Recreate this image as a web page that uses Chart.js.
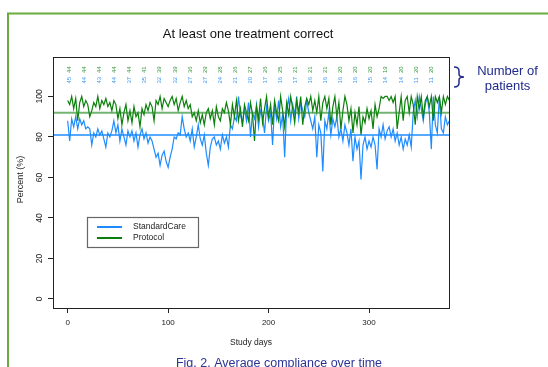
<!DOCTYPE html>
<html><head><meta charset="utf-8">
<script src="https://cdn.jsdelivr.net/npm/chart.js@4/dist/chart.umd.min.js"></script>
<style>html,body{margin:0;padding:0;background:#fff;overflow:hidden}#wrap{position:relative;width:548px;height:367px}</style>
</head><body><div id="wrap"><canvas id="c" width="548" height="367"></canvas></div>
<script>
// ---------------- data ----------------
const chartTitle = "At least one treatment correct";
const xAxisTitle = "Study days";
const yAxisTitle = "Percent (%)";
const caption = "Fig. 2. Average compliance over time";
const noteLines = ["Number of", "patients"];
const seriesNames = ["StandardCare", "Protocol"];
const dayStep = 2; // one value every 2 study days, starting at day 0
const standardCare = [
 88,78,89,85,90,84,89,86,88,84,
 85,84,76,82,80,84,81,83,79,75,
 82,80,83,88,82,86,78,84,80,76,
 83,80,83,78,82,75,81,84,79,82,
 77,80,78,74,70,72,66,71,73,68,
 65,70,74,80,79,82,81,90,84,80,
 82,78,84,75,80,86,79,76,81,72,
 66,75,79,80,76,78,74,81,77,80,
 75,86,84,90,88,100,91,87,94,88,
 97,80,92,89,96,85,93,90,82,95,
 88,92,76,96,89,98,85,91,70,94,
 99,88,96,91,100,89,97,93,90,98,
 92,88,84,90,70,86,82,63,88,84,
 92,81,89,85,90,80,84,78,86,82,
 76,84,68,80,74,78,59,76,80,74,
 78,75,80,76,64,84,80,86,79,83,
 85,80,84,78,82,76,80,74,79,76,
 81,75,92,98,90,100,94,88,96,100,
 92,74,100,86,82,100,84,82,90,86,
 88];
const protocol = [
 98,96,100,94,99,88,97,100,95,98,
 96,90,93,97,95,100,94,98,96,99,
 95,97,93,98,96,89,94,86,92,96,
 88,93,87,95,90,92,85,94,91,96,
 93,97,95,88,98,96,100,94,99,97,
 95,98,100,96,99,93,97,100,95,98,
 94,96,90,92,88,93,87,91,86,92,
 94,89,93,86,95,90,88,94,92,97,
 93,86,96,90,98,88,94,85,96,92,
 88,97,91,78,95,89,99,87,94,100,
 90,96,86,98,92,88,100,93,85,97,
 91,100,94,87,98,92,100,86,95,99,
 96,100,93,98,92,100,88,97,100,94,
 99,86,95,100,90,97,84,93,100,96,
 88,94,82,92,86,95,81,90,87,94,
 89,93,84,96,90,94,100,99,100,100,
 98,100,97,100,84,92,100,88,98,100,
 92,100,96,86,100,94,100,90,98,100,
 95,100,88,100,97,100,92,100,96,100,
 98];
const meanLevels = [81, 92]; // StandardCare, Protocol averages
const patientsStandard = [45,44,43,44,37,35,32,32,27,27,24,21,20,17,16,17,16,16,16,16,15,14,14,11,11];
const patientsProtocol = [44,44,44,44,44,41,39,39,36,29,28,26,27,26,25,21,21,21,20,20,20,19,20,20,20];
const xTickValues = [0, 100, 200, 300];
const yTickValues = [0, 20, 40, 60, 80, 100];

// ---------------- styling / layout ----------------
const BLUE = '#1e8cff', GREEN = '#0a800a';
const FONT = '"Liberation Sans", Arial, Helvetica, sans-serif';
const X_MIN = -14.6, X_MAX = 379.6, Y_MIN = -4.5, Y_MAX = 119.5;
const NOTE_COLOR = '#202a8c';

const toPoints = arr => arr.map((v, i) => ({x: i * dayStep, y: v}));
const hline = v => [{x: X_MIN, y: v}, {x: X_MAX, y: v}];

const decor = {
  id: 'decor',
  beforeDraw(chart) {
    const ctx = chart.ctx;
    ctx.save();
    ctx.fillStyle = '#fff';
    ctx.fillRect(0, 0, chart.width, chart.height);
    ctx.strokeStyle = '#6aab3f';
    ctx.lineWidth = 2;
    ctx.strokeRect(8, 13.5, 700, 500);
    ctx.restore();
  },
  afterDraw(chart) {
    const ctx = chart.ctx, a = chart.chartArea;
    const xs = chart.scales.x, ys = chart.scales.y;
    ctx.save();
    // plot box
    ctx.strokeStyle = '#222'; ctx.lineWidth = 1;
    ctx.strokeRect(Math.round(a.left) + 0.5, Math.round(a.top) + 0.5, Math.round(a.right - a.left), Math.round(a.bottom - a.top));
    // y tick labels (rotated, R style)
    ctx.fillStyle = '#222';
    ctx.font = '8.5px ' + FONT;
    ctx.textAlign = 'center'; ctx.textBaseline = 'middle';
    ys.ticks.forEach(t => {
      const py = ys.getPixelForValue(t.value);
      ctx.save(); ctx.translate(a.left - 13, py); ctx.rotate(-Math.PI / 2);
      ctx.fillText(String(t.value), 0, 0); ctx.restore();
    });
    // y title
    ctx.font = '9px ' + FONT;
    ctx.save(); ctx.translate(21, (a.top + a.bottom) / 2 - 3); ctx.rotate(-Math.PI / 2);
    ctx.fillText(yAxisTitle, 0, 0); ctx.restore();
    // main title
    ctx.fillStyle = '#111';
    ctx.font = '13px ' + FONT;
    ctx.fillText(chartTitle, (a.left + a.right) / 2 - 3, 34);
    // patient counts
    ctx.font = '6px ' + FONT;
    patientsProtocol.forEach((n, i) => {
      const px = xs.getPixelForValue(1.7 + 15 * i);
      ctx.save(); ctx.translate(px, ys.getPixelForValue(113.2)); ctx.rotate(-Math.PI / 2);
      ctx.fillStyle = '#34963a'; ctx.fillText(String(n), 0, 0); ctx.restore();
      ctx.save(); ctx.translate(px, ys.getPixelForValue(108)); ctx.rotate(-Math.PI / 2);
      ctx.fillStyle = '#3d98f2'; ctx.fillText(String(patientsStandard[i]), 0, 0); ctx.restore();
    });
    // legend
    ctx.strokeStyle = '#666'; ctx.lineWidth = 1.2;
    ctx.strokeRect(87.5, 217.5, 111, 30);
    const legendColors = [BLUE, GREEN];
    ctx.font = '8.5px ' + FONT; ctx.textAlign = 'left'; ctx.fillStyle = '#222';
    seriesNames.forEach((s, i) => {
      const ly = 227 + i * 11;
      ctx.strokeStyle = legendColors[i]; ctx.lineWidth = 2;
      ctx.beginPath(); ctx.moveTo(97, ly); ctx.lineTo(122, ly); ctx.stroke();
      ctx.fillText(s, 133, ly);
    });
    // brace + note
    ctx.strokeStyle = NOTE_COLOR; ctx.lineWidth = 1.5;
    ctx.beginPath();
    ctx.moveTo(454, 67);
    ctx.quadraticCurveTo(459, 67, 459, 71);
    ctx.lineTo(459, 74);
    ctx.quadraticCurveTo(459, 77, 464, 77);
    ctx.quadraticCurveTo(459, 77, 459, 80);
    ctx.lineTo(459, 83);
    ctx.quadraticCurveTo(459, 87, 454, 87);
    ctx.stroke();
    ctx.fillStyle = NOTE_COLOR; ctx.font = '13px ' + FONT; ctx.textAlign = 'center';
    ctx.fillText(noteLines[0], 507.5, 71.5);
    ctx.fillText(noteLines[1], 507.5, 86.5);
    // caption
    ctx.fillStyle = '#2b3494'; ctx.font = '12.5px ' + FONT; ctx.textBaseline = 'alphabetic';
    ctx.fillText(caption, 279, 366.5);
    ctx.restore();
  }
};

new Chart(document.getElementById('c'), {
  type: 'line',
  data: {
    datasets: [
      {label: seriesNames[0] + ' mean', data: hline(meanLevels[0]), borderColor: BLUE, borderWidth: 1.5, pointRadius: 0, order: 0},
      {label: seriesNames[1] + ' mean', data: hline(meanLevels[1]), borderColor: 'rgba(40,140,40,0.65)', borderWidth: 2, pointRadius: 0, order: 0},
      {label: seriesNames[1], data: toPoints(protocol), borderColor: GREEN, borderWidth: 1.2, pointRadius: 0, tension: 0, order: 1},
      {label: seriesNames[0], data: toPoints(standardCare), borderColor: BLUE, borderWidth: 1.2, pointRadius: 0, tension: 0, order: 2}
    ]
  },
  options: {
    responsive: false, animation: false, devicePixelRatio: 1,
    layout: {padding: {left: 13, right: 99, top: 57, bottom: 19}},
    plugins: {legend: {display: false}, title: {display: false}, tooltip: {enabled: false}},
    scales: {
      x: {
        type: 'linear', min: X_MIN, max: X_MAX,
        afterFit: s => { s.height = 40; },
        afterBuildTicks: s => { s.ticks = xTickValues.map(v => ({value: v})); },
        border: {display: false},
        grid: {display: true, drawOnChartArea: false, drawTicks: true, tickLength: 5, tickColor: '#222', tickWidth: 1},
        ticks: {font: {size: 8, family: FONT}, color: '#222', padding: 5, maxRotation: 0, includeBounds: false},
        title: {display: true, text: xAxisTitle, font: {size: 8.5, family: FONT}, color: '#222', padding: {top: 4, bottom: 0}}
      },
      y: {
        type: 'linear', min: Y_MIN, max: Y_MAX,
        afterFit: s => { s.width = 40; },
        afterBuildTicks: s => { s.ticks = yTickValues.map(v => ({value: v})); },
        border: {display: false},
        grid: {display: true, drawOnChartArea: false, drawTicks: true, tickLength: 5, tickColor: '#222', tickWidth: 1},
        ticks: {display: false, includeBounds: false}
      }
    }
  },
  plugins: [decor]
});
</script></body></html>
